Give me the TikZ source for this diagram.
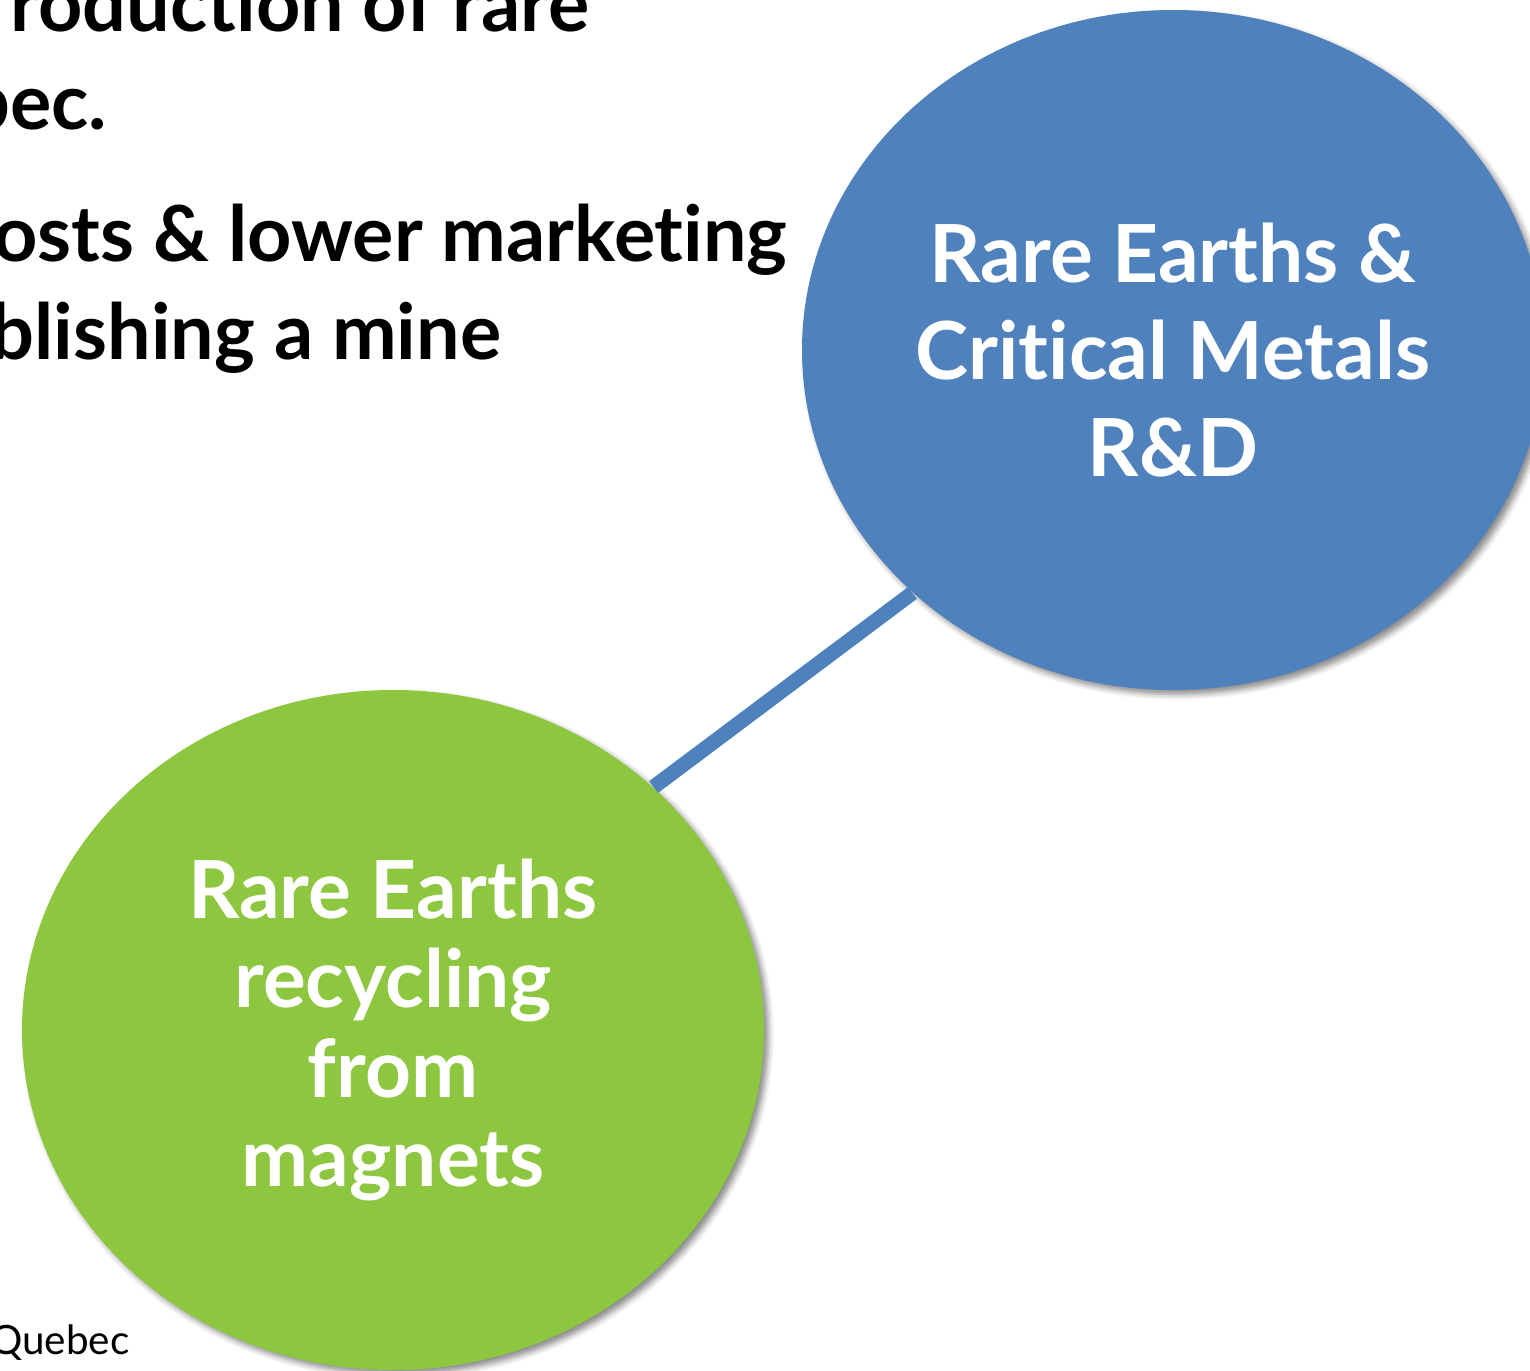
\documentclass[tikz,border=0pt]{standalone}
\usepackage{fontspec}
\setmainfont{Lato}[Ligatures=NoCommon]
\usetikzlibrary{shapes.geometric,shadows.blur}
\definecolor{reblue}{HTML}{4F81BD}
\definecolor{regreen}{HTML}{8DC63F}
\tikzset{
  bubble/.style={ellipse,inner sep=0pt,minimum width=7.42cm,minimum height=6.8cm,
    text=white,align=center,font=\fontsize{22.8}{27.5}\selectfont\bfseries,
    blur shadow={shadow xshift=1.3pt,shadow yshift=-1.3pt,shadow blur radius=1.6pt,shadow opacity=45}},
  slide/.style={inner sep=0pt,anchor=base east,font=\fontsize{22}{27}\selectfont\bfseries}
}
\begin{document}
\begin{tikzpicture}
\path[use as bounding box,clip] (0,0) rectangle (15.3,13.7);
% bullet text running off the left edge
\node[slide](l1) at (5.90,13.38){roduction of rare};
\node[slide](l2) at (1.08,12.40){bec.};
\node[slide](l3) at (7.88,11.08){osts \& lower marketing};
\node[slide](l4) at (5.02,10.10){blishing a mine};
\node[inner sep=0pt,anchor=base east,font=\fontsize{11.5}{14}\selectfont](qc) at (1.30,0.16){Quebec};
% the two bubbles
\node[bubble,fill=reblue](rd)  at (11.73,10.20){Rare Earths \&\\Critical Metals\\R\&D};
\node[bubble,fill=regreen,font=\fontsize{22.8}{25.5}\selectfont\bfseries](mag) at (3.93,3.40){Rare Earths\\recycling\\from\\magnets};
\path (mag.43) edge[reblue,line width=4.2pt] (rd.223);
\end{tikzpicture}
\end{document}
